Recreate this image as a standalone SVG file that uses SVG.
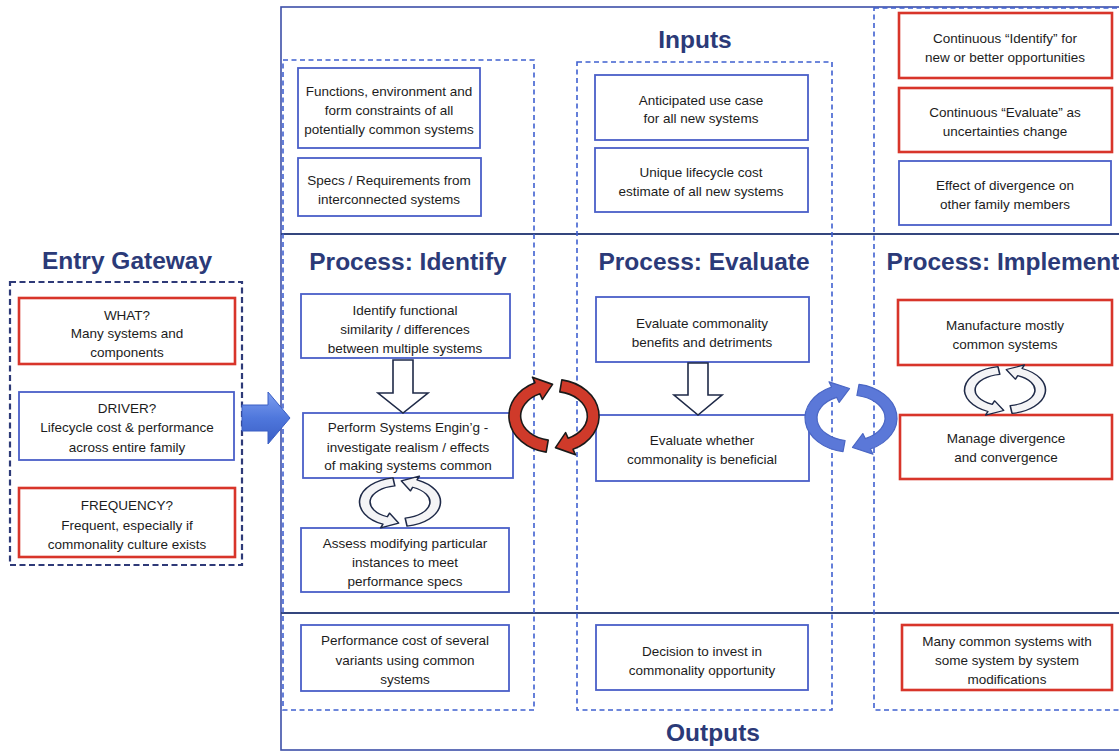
<svg xmlns="http://www.w3.org/2000/svg" width="1119" height="753" viewBox="0 0 1119 753">
  <defs>
    <style>
      .bg { fill: #ffffff; }
      .frame { fill: none; stroke: #3d4fa8; stroke-width: 1.6; }
      .rule { stroke: #34467e; stroke-width: 1.8; }
      .col { fill: none; stroke: #3f60d0; stroke-width: 1.6; stroke-dasharray: 5 3.5; }
      .gate { fill: none; stroke: #2e3a78; stroke-width: 2.2; stroke-dasharray: 6 3.5; }
      .bbox { fill: #ffffff; stroke: #4a5fc8; stroke-width: 1.8; }
      .rbox { fill: #ffffff; stroke: #d8352a; stroke-width: 2.6; }
      .title { font-family: "Liberation Sans", Arial, sans-serif; font-weight: bold; font-size: 24.5px; fill: #2b3a78; text-anchor: middle; }
      .lbl { font-family: "Liberation Sans", Arial, sans-serif; font-size: 13.5px; fill: #1c1c1c; text-anchor: middle; }
      .down { fill: #ffffff; stroke: #1f2a48; stroke-width: 1.6; stroke-linejoin: miter; }
      .cyc-red { fill: #cf3a2a; stroke: #1a1a1a; stroke-width: 1.6; stroke-linejoin: round; }
      .cyc-blue { fill: #5b78d8; stroke: #4a66c4; stroke-width: 1.2; stroke-linejoin: round; }
      .cyc-white { fill: #f4f4f6; stroke: #1f2a48; stroke-width: 1.8; stroke-linejoin: round; }
    </style>
    <linearGradient id="gateArrowFill" x1="0" y1="0" x2="0" y2="1">
      <stop offset="0" stop-color="#7e9ff0"/>
      <stop offset="0.5" stop-color="#4f77dc"/>
      <stop offset="1" stop-color="#3a5ec4"/>
    </linearGradient>
    <!-- one half of a rotation cycle: band from bottom, round the left, arrowhead at top pointing right -->
    <path id="halfCycle" d="M -7.99 35.45 A 46 36 0 0 1 -19.44 -32.63 L -21.98 -38.06 L -1.5 -31 L -11.83 -16.31 L -14.37 -21.75 A 34 24 0 0 0 -5.90 23.64 Z"/>
  </defs>

  <rect class="bg" x="0" y="0" width="1119" height="753"/>

  <!-- main frame with Inputs / Process / Outputs bands -->
  <g id="frame">
    <rect class="frame" x="281" y="7" width="860" height="743"/>
    <line class="rule" x1="281" y1="234" x2="1119" y2="234"/>
    <line class="rule" x1="281" y1="613" x2="1119" y2="613"/>
    <text class="title" x="695" y="48">Inputs</text>
    <text class="title" x="713" y="741">Outputs</text>
  </g>

  <!-- dashed phase columns -->
  <g id="columns">
    <rect id="col-identify" class="col" x="283" y="60" width="251" height="650"/>
    <rect id="col-evaluate" class="col" x="577" y="62" width="255" height="648"/>
    <rect id="col-implement" class="col" x="874" y="8" width="260" height="702"/>
    <text class="title" x="408" y="270">Process: Identify</text>
    <text class="title" x="704" y="270">Process: Evaluate</text>
    <text class="title" x="1003" y="270">Process: Implement</text>
  </g>

  <!-- entry gateway -->
  <g id="entry-gateway">
    <text class="title" x="127" y="269">Entry Gateway</text>
    <rect class="gate" x="10" y="282" width="232" height="283"/>
  </g>
  <g id="gw-what">
    <rect class="rbox" x="19" y="298" width="216" height="66"/>
    <text class="lbl" x="127" y="320">WHAT?</text>
    <text class="lbl" x="127" y="338">Many systems and</text>
    <text class="lbl" x="127" y="357">components</text>
  </g>
  <g id="gw-driver">
    <rect class="bbox" x="19" y="392" width="215" height="68"/>
    <text class="lbl" x="127" y="413">DRIVER?</text>
    <text class="lbl" x="127" y="432">Lifecycle cost &amp; performance</text>
    <text class="lbl" x="127" y="452">across entire family</text>
  </g>
  <g id="gw-frequency">
    <rect class="rbox" x="19" y="488" width="216" height="69"/>
    <text class="lbl" x="127" y="510">FREQUENCY?</text>
    <text class="lbl" x="127" y="530">Frequent, especially if</text>
    <text class="lbl" x="127" y="549">commonality culture exists</text>
  </g>

  <!-- Inputs -->
  <g id="in-functions">
    <rect class="bbox" x="298" y="68" width="182" height="80"/>
    <text class="lbl" x="389" y="96">Functions, environment and</text>
    <text class="lbl" x="389" y="115">form constraints of all</text>
    <text class="lbl" x="389" y="134">potentially common systems</text>
  </g>
  <g id="in-specs">
    <rect class="bbox" x="298" y="158" width="183" height="58"/>
    <text class="lbl" x="389" y="185">Specs / Requirements from</text>
    <text class="lbl" x="389" y="204">interconnected systems</text>
  </g>
  <g id="in-usecase">
    <rect class="bbox" x="595" y="75" width="213" height="65"/>
    <text class="lbl" x="701" y="105">Anticipated use case</text>
    <text class="lbl" x="701" y="123">for all new systems</text>
  </g>
  <g id="in-lifecycle">
    <rect class="bbox" x="595" y="148" width="213" height="64"/>
    <text class="lbl" x="701" y="177">Unique lifecycle cost</text>
    <text class="lbl" x="701" y="196">estimate of all new systems</text>
  </g>
  <g id="in-cont-identify">
    <rect class="rbox" x="899" y="13" width="213" height="65"/>
    <text class="lbl" x="1005" y="43">Continuous “Identify” for</text>
    <text class="lbl" x="1005" y="62">new or better opportunities</text>
  </g>
  <g id="in-cont-evaluate">
    <rect class="rbox" x="899" y="88" width="213" height="64"/>
    <text class="lbl" x="1005" y="117">Continuous “Evaluate” as</text>
    <text class="lbl" x="1005" y="136">uncertainties change</text>
  </g>
  <g id="in-divergence">
    <rect class="bbox" x="899" y="161" width="212" height="64"/>
    <text class="lbl" x="1005" y="190">Effect of divergence on</text>
    <text class="lbl" x="1005" y="209">other family members</text>
  </g>

  <!-- Process: Identify -->
  <g id="p-identify">
    <rect class="bbox" x="301" y="294" width="209" height="64"/>
    <text class="lbl" x="405" y="315">Identify functional</text>
    <text class="lbl" x="405" y="334">similarity / differences</text>
    <text class="lbl" x="405" y="353">between multiple systems</text>
  </g>
  <g id="p-syseng">
    <rect class="bbox" x="303" y="413" width="210" height="65"/>
    <text class="lbl" x="408" y="432">Perform Systems Engin’g -</text>
    <text class="lbl" x="408" y="452">investigate realism / effects</text>
    <text class="lbl" x="408" y="470">of making systems common</text>
  </g>
  <g id="p-assess">
    <rect class="bbox" x="301" y="528" width="208" height="64"/>
    <text class="lbl" x="405" y="548">Assess modifying particular</text>
    <text class="lbl" x="405" y="567">instances to meet</text>
    <text class="lbl" x="405" y="586">performance specs</text>
  </g>

  <!-- Process: Evaluate -->
  <g id="p-benefits">
    <rect class="bbox" x="596" y="297" width="213" height="65"/>
    <text class="lbl" x="702" y="328">Evaluate commonality</text>
    <text class="lbl" x="702" y="347">benefits and detriments</text>
  </g>
  <g id="p-whether">
    <rect class="bbox" x="596" y="415" width="213" height="66"/>
    <text class="lbl" x="702" y="445">Evaluate whether</text>
    <text class="lbl" x="702" y="464">commonality is beneficial</text>
  </g>

  <!-- Process: Implement -->
  <g id="p-manufacture">
    <rect class="rbox" x="898" y="300" width="214" height="65"/>
    <text class="lbl" x="1005" y="330">Manufacture mostly</text>
    <text class="lbl" x="1005" y="349">common systems</text>
  </g>
  <g id="p-manage">
    <rect class="rbox" x="900" y="415" width="212" height="64"/>
    <text class="lbl" x="1006" y="443">Manage divergence</text>
    <text class="lbl" x="1006" y="462">and convergence</text>
  </g>

  <!-- Outputs -->
  <g id="out-performance">
    <rect class="bbox" x="301" y="625" width="208" height="66"/>
    <text class="lbl" x="405" y="645">Performance cost of several</text>
    <text class="lbl" x="405" y="665">variants using common</text>
    <text class="lbl" x="405" y="684">systems</text>
  </g>
  <g id="out-decision">
    <rect class="bbox" x="596" y="625" width="212" height="65"/>
    <text class="lbl" x="702" y="656">Decision to invest in</text>
    <text class="lbl" x="702" y="675">commonality opportunity</text>
  </g>
  <g id="out-common">
    <rect class="rbox" x="902" y="625" width="210" height="65"/>
    <text class="lbl" x="1007" y="646">Many common systems with</text>
    <text class="lbl" x="1007" y="665">some system by system</text>
    <text class="lbl" x="1007" y="684">modifications</text>
  </g>

  <!-- connectors -->
  <g id="connectors">
    <!-- gateway into the process frame -->
    <path d="M 242 405 L 268 405 L 268 392 L 290 418 L 268 444 L 268 431 L 242 431 Z" fill="url(#gateArrowFill)" stroke="#3a5ec4" stroke-width="1"/>
    <!-- downward block arrows -->
    <path class="down" d="M 393 360 L 413 360 L 413 393 L 428 393 L 403 413 L 378 393 L 393 393 Z"/>
    <path class="down" d="M 688 363 L 708 363 L 708 395 L 722 395 L 698 415 L 674 395 L 688 395 Z"/>
    <!-- iterate loop between Identify steps -->
    <g transform="translate(400 502) scale(0.88 0.68) scale(-1 1)">
      <use href="#halfCycle" class="cyc-white"/>
      <use href="#halfCycle" class="cyc-white" transform="rotate(180)"/>
    </g>
    <!-- iterate loop between Implement steps -->
    <g transform="translate(1005 390) scale(0.88 0.66) scale(-1 1)">
      <use href="#halfCycle" class="cyc-white"/>
      <use href="#halfCycle" class="cyc-white" transform="rotate(180)"/>
    </g>
    <!-- Identify / Evaluate feedback loop -->
    <g transform="translate(554 416) scale(0.98 1.02)">
      <use href="#halfCycle" class="cyc-red"/>
      <use href="#halfCycle" class="cyc-red" transform="rotate(180)"/>
    </g>
    <!-- Evaluate / Implement feedback loop -->
    <g transform="translate(851 418) scale(1.0 0.95)">
      <use href="#halfCycle" class="cyc-blue"/>
      <use href="#halfCycle" class="cyc-blue" transform="rotate(180)"/>
    </g>
  </g>
</svg>
